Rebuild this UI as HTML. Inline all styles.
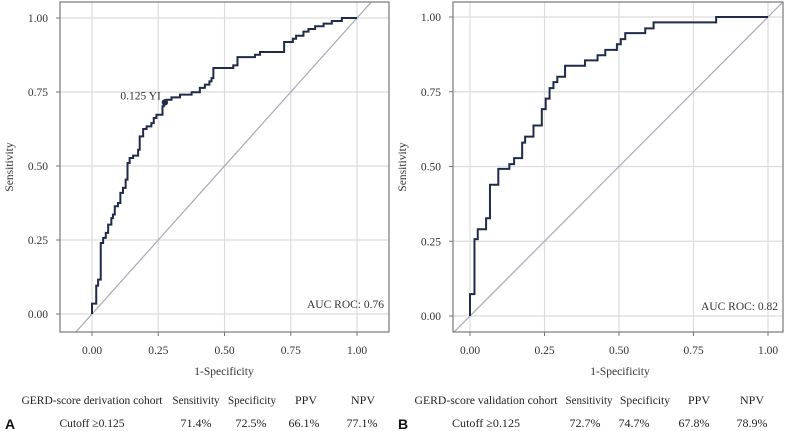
<!DOCTYPE html>
<html><head><meta charset="utf-8">
<style>
body{margin:0;background:#fff;width:785px;height:431px;overflow:hidden;}
svg{display:block;font-family:"Liberation Serif",serif;}
</style></head>
<body>
<svg id="chart" width="785" height="431" viewBox="0 0 785 431" xmlns="http://www.w3.org/2000/svg"></svg>
<script>
const ticks = [0, 0.25, 0.5, 0.75, 1];
const tickLabels = ["0.00", "0.25", "0.50", "0.75", "1.00"];
const derivFpr = [0,.016,.023,.033,.042,.052,.061,.073,.079,.086,.098,.107,.117,.127,.134,.142,.155,.174,.18,.193,.206,.224,.233,.243,.266,.271,.281,.30,.332,.376,.407,.426,.443,.451,.458,.533,.549,.615,.634,.725,.758,.77,.798,.817,.842,.874,.905,.943];
const derivTpr = [.035,.096,.116,.24,.257,.274,.302,.324,.336,.364,.375,.409,.426,.454,.51,.527,.535,.555,.60,.625,.634,.645,.662,.673,.702,.713,.724,.732,.741,.749,.764,.775,.786,.797,.831,.84,.868,.876,.885,.919,.93,.94,.954,.963,.972,.981,.99,1];
const validFpr = [0,.015,.026,.054,.067,.095,.132,.148,.175,.185,.213,.241,.254,.267,.28,.293,.319,.386,.428,.454,.493,.506,.521,.588,.616,.826];
const validTpr = [.073,.257,.29,.327,.439,.492,.508,.528,.58,.60,.637,.692,.727,.762,.782,.80,.837,.855,.872,.89,.909,.926,.946,.962,.982,1];
const cutoffPoint = [0.275, 0.715];

const NS = "http://www.w3.org/2000/svg";
const svg = document.getElementById("chart");
function mk(tag, attrs, parent){const e=document.createElementNS(NS,tag);for(const k in attrs)e.setAttribute(k,attrs[k]);(parent||svg).appendChild(e);return e;}

function panel(id, fl, fr, ft, fb, x0, x1, y0, y1, fpr, tpr, auc, cx){
  const g = mk("g", {});
  
  
  const X = v => x0 + v*(x1-x0);
  const Y = v => y0 - v*(y0-y1);
  const cp = mk("clipPath", {id: id+"clip"}, g);
  mk("rect", {x:fl, y:ft, width:fr-fl, height:fb-ft}, cp);
  ticks.forEach((t,i)=>{
    const gv = mk("line",{x1:X(t),x2:X(t),y1:ft,y2:fb,stroke:"#dcdcdc","stroke-width":1.2},g);
    
    
    const gh = mk("line",{x1:fl,x2:fr,y1:Y(t),y2:Y(t),stroke:"#dcdcdc","stroke-width":1.2},g);
    
    
    const ty = mk("text",{x:fl-12,y:Y(t)+4,"text-anchor":"end","font-size":11.5,fill:"#333"},g);
    ty.textContent = tickLabels[i];
    
    
    const tx = mk("text",{x:X(t),y:354,"text-anchor":"middle","font-size":11.5,fill:"#333"},g);
    tx.textContent = tickLabels[i];
    
    
    mk("line",{x1:fl-4,x2:fl,y1:Y(t),y2:Y(t),stroke:"#777"},g);
    mk("line",{x1:X(t),x2:X(t),y1:fb,y2:fb+4,stroke:"#777"},g);
  });
  const diag = mk("line",{x1:X(-0.2),y1:Y(-0.2),x2:X(1.2),y2:Y(1.2),stroke:"#a6aabb","stroke-width":1.2,"clip-path":"url(#"+id+"clip)"},g);
  
  
  let d = "M"+X(0)+","+Y(0);
  for(let i=0;i<fpr.length;i++){ d += " H"+X(fpr[i])+" V"+Y(tpr[i]); }
  d += " H"+X(1);
  const p = mk("path",{d:d,fill:"none",stroke:"#1f2b47","stroke-width":2},g);
  
  
  const fr_ = mk("rect",{x:fl,y:ft,width:fr-fl,height:fb-ft,fill:"none",stroke:"#777","stroke-width":1.2},g);
  
  
  const a = mk("text",{x:fr-5,y:Y(0)-6,"text-anchor":"end","font-size":11.5,fill:"#333"},g);
  a.textContent = "AUC ROC: "+auc;
  
  
  const yl = mk("text",{transform:"translate("+(fl-47)+","+((ft+fb)/2)+") rotate(-90)","text-anchor":"middle","font-size":11.5,fill:"#333"},g);
  yl.textContent = "Sensitivity";
  
  
  const xl = mk("text",{x:cx,y:375,"text-anchor":"middle","font-size":11.5,fill:"#333"},g);
  xl.textContent = "1-Specificity";
  
  
  return {g,X,Y};
}
const L = panel("derivation",60,389,2,332,92,357,314,18,derivFpr,derivTpr,"0.76",224);
const dot = mk("circle",{cx:L.X(cutoffPoint[0]),cy:L.Y(cutoffPoint[1]),r:3.2,fill:"#1f2b47"},L.g);


const dl = mk("text",{x:L.X(cutoffPoint[0])-4,y:L.Y(cutoffPoint[1])-3,"text-anchor":"end","font-size":11.5,fill:"#333"},L.g);
dl.textContent = "0.125 YI";


panel("validation",453,783,2,332,470,768,316,17,validFpr,validTpr,"0.82",620);

function table(letter, lx, cells){
  const t = mk("text",{x:lx,y:429,"font-family":"Liberation Sans,sans-serif","font-weight":"bold","font-size":14,fill:"#111"});
  t.textContent = letter;
  
  
  cells.forEach(c=>{
    const at = {x:c[0],y:c[1],"text-anchor":"middle","font-size":12,fill:"#222"};
    if (c[3]) { at.textLength = c[3]; at.lengthAdjust = "spacingAndGlyphs"; }
    const e = mk("text",at);
    e.textContent = c[2];
    
    
  });
}
table("A",5,[[92,404,"GERD-score derivation cohort",141],[196,404,"Sensitivity",47],[252,404,"Specificity",48],[306,404,"PPV",0],[363,404,"NPV",0],
 [92,427,"Cutoff ≥0.125",65],[196,427,"71.4%",0],[251,427,"72.5%",0],[304,427,"66.1%",0],[362,427,"77.1%",0]]);
table("B",398,[[486,404,"GERD-score validation cohort",143],[589,404,"Sensitivity",47],[645,404,"Specificity",50],[699,404,"PPV",0],[752,404,"NPV",0],
 [486,427,"Cutoff ≥0.125",68],[585,427,"72.7%",0],[634,427,"74.7%",0],[694,427,"67.8%",0],[752,427,"78.9%",0]]);
</script>
</body></html>
